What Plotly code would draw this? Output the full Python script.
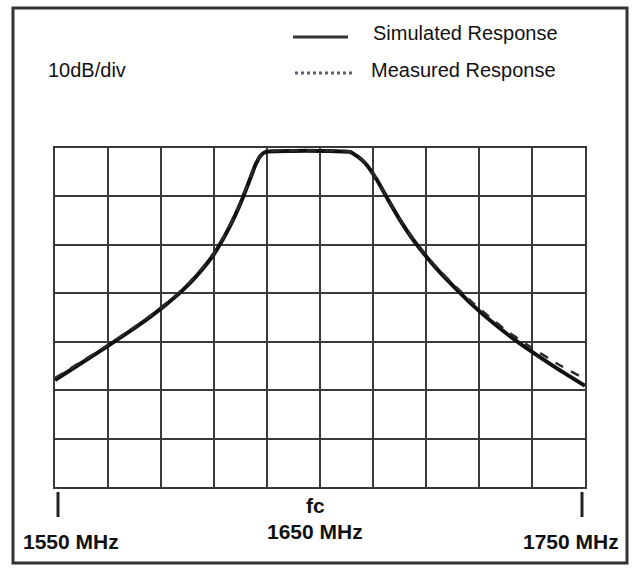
import plotly.graph_objects as go

# ---- data ----
freq_sim = [1550, 1559.4, 1569.6, 1578.3, 1585.8, 1591.5, 1597.9, 1603.6, 1609.6, 1614.2,
            1617.9, 1620.9, 1623.6, 1625.8, 1627.7, 1629.6, 1640, 1650, 1658, 1661.3,
            1664.0, 1667.0, 1671.5, 1675.7, 1680.2, 1685.1, 1690.4, 1695.3, 1701.7, 1707.7,
            1715.3, 1720.6, 1729.2, 1739.4, 1750]
sim_db = [-47.9, -44.6, -41.0, -37.8, -34.9, -32.5, -29.5, -26.3, -22.2, -18.0,
          -14.0, -10.2, -6.4, -3.3, -1.5, -0.8, -0.6, -0.6, -0.7, -0.8,
          -1.7, -3.1, -6.6, -10.7, -14.9, -18.9, -22.6, -25.7, -29.3, -32.5,
          -36.1, -38.4, -41.8, -45.5, -49.1]

freq_meas = [1550, 1559.4, 1569.6, 1578.3, 1585.8, 1591.5, 1597.9, 1603.6, 1609.6, 1614.2,
             1617.9, 1620.9, 1623.6, 1625.8, 1627.7, 1629.6, 1640, 1650, 1658, 1661.3,
             1664.0, 1667.0, 1671.5, 1675.7, 1680.2, 1685.1, 1690.4, 1695.3, 1701.7, 1707.7,
             1715.3, 1720.6, 1729.2, 1739.4, 1750]
meas_db = [-47.5, -44.3, -40.8, -37.6, -34.7, -32.3, -29.3, -26.1, -22.0, -17.8,
           -13.8, -10.0, -6.2, -3.2, -1.4, -0.7, -0.5, -0.5, -0.6, -0.7,
           -1.6, -3.0, -6.5, -10.5, -14.7, -18.7, -22.4, -25.4, -28.9, -32.0,
           -35.5, -37.8, -41.0, -44.5, -47.7]

x_tick_labels = ["1550 MHz", "1650 MHz", "1750 MHz"]
legend_names = ["Simulated Response", "Measured Response"]
scale_label = "10dB/div"
center_label = "fc"

# ---- layout geometry (pixels) ----
W, H = 635, 568
L, R, T, B = 55, 585, 148, 487


def px(x):
    return (x - L) / (R - L)


def py(y):
    return (B - y) / (B - T)


fig = go.Figure()
fig.add_trace(go.Scatter(x=freq_sim, y=sim_db, mode="lines", name=legend_names[0],
                         line=dict(color="#111111", width=4, shape="spline", smoothing=0.6)))
fig.add_trace(go.Scatter(x=freq_meas, y=meas_db, mode="lines", name=legend_names[1],
                         line=dict(color="#2a2a2a", width=2.5, dash="dash", shape="spline", smoothing=0.6)))

grid_col = "#3a3a3a"
fig.update_xaxes(range=[1550, 1750], dtick=20, tick0=1550, showgrid=True, gridcolor=grid_col,
                 gridwidth=2, showticklabels=False, ticks="", zeroline=False,
                 showline=True, linecolor=grid_col, linewidth=2, mirror=True)
fig.update_yaxes(range=[-70, 0], dtick=10, tick0=0, showgrid=True, gridcolor=grid_col,
                 gridwidth=2, showticklabels=False, ticks="", zeroline=False,
                 showline=True, linecolor=grid_col, linewidth=2, mirror=True)

shapes = []
# outer frame
shapes.append(dict(type="rect", xref="paper", yref="paper",
                   x0=px(13), x1=px(627), y0=py(563), y1=py(8),
                   line=dict(color="#333333", width=3), fillcolor="rgba(0,0,0,0)", layer="below"))
# end tick marks
for pxx in [58, 582]:
    shapes.append(dict(type="line", xref="paper", yref="paper",
                       x0=px(pxx), x1=px(pxx), y0=py(492), y1=py(517),
                       line=dict(color="#222222", width=3)))
# legend samples
shapes.append(dict(type="line", xref="paper", yref="paper", x0=px(293), x1=px(348),
                   y0=py(37), y1=py(37), line=dict(color="#333333", width=3)))
shapes.append(dict(type="line", xref="paper", yref="paper", x0=px(295), x1=px(352),
                   y0=py(73), y1=py(73), line=dict(color="#5a6070", width=3, dash="dot")))

font_n = dict(family="Liberation Sans, Arial", size=20, color="#111111")
font_b = dict(family="Liberation Sans, Arial", size=21, color="#111111")

ann = []
ann.append(dict(text=legend_names[0], x=px(371), y=py(33), xanchor="left", yanchor="middle", font=font_n))
ann.append(dict(text=legend_names[1], x=px(369), y=py(70), xanchor="left", yanchor="middle", font=font_n))
ann.append(dict(text=scale_label, x=px(46), y=py(70), xanchor="left", yanchor="middle", font=font_n))
ann.append(dict(text="<b>" + center_label + "</b>", x=px(315), y=py(505), xanchor="center", yanchor="middle", font=font_b))
ann.append(dict(text="<b>" + x_tick_labels[1] + "</b>", x=px(315), y=py(531), xanchor="center", yanchor="middle", font=font_b))
ann.append(dict(text="<b>" + x_tick_labels[0] + "</b>", x=px(21), y=py(541), xanchor="left", yanchor="middle", font=font_b))
ann.append(dict(text="<b>" + x_tick_labels[2] + "</b>", x=px(621), y=py(541), xanchor="right", yanchor="middle", font=font_b))
for a in ann:
    a.update(xref="paper", yref="paper", showarrow=False)

fig.update_layout(width=W, height=H, margin=dict(l=L, r=W - R, t=T, b=H - B),
                  paper_bgcolor="white", plot_bgcolor="white", showlegend=False,
                  shapes=shapes, annotations=ann)

fig.write_html("out.html", config={"displayModeBar": False},
               post_script="document.body.style.margin='0';document.body.style.overflow='hidden';")
